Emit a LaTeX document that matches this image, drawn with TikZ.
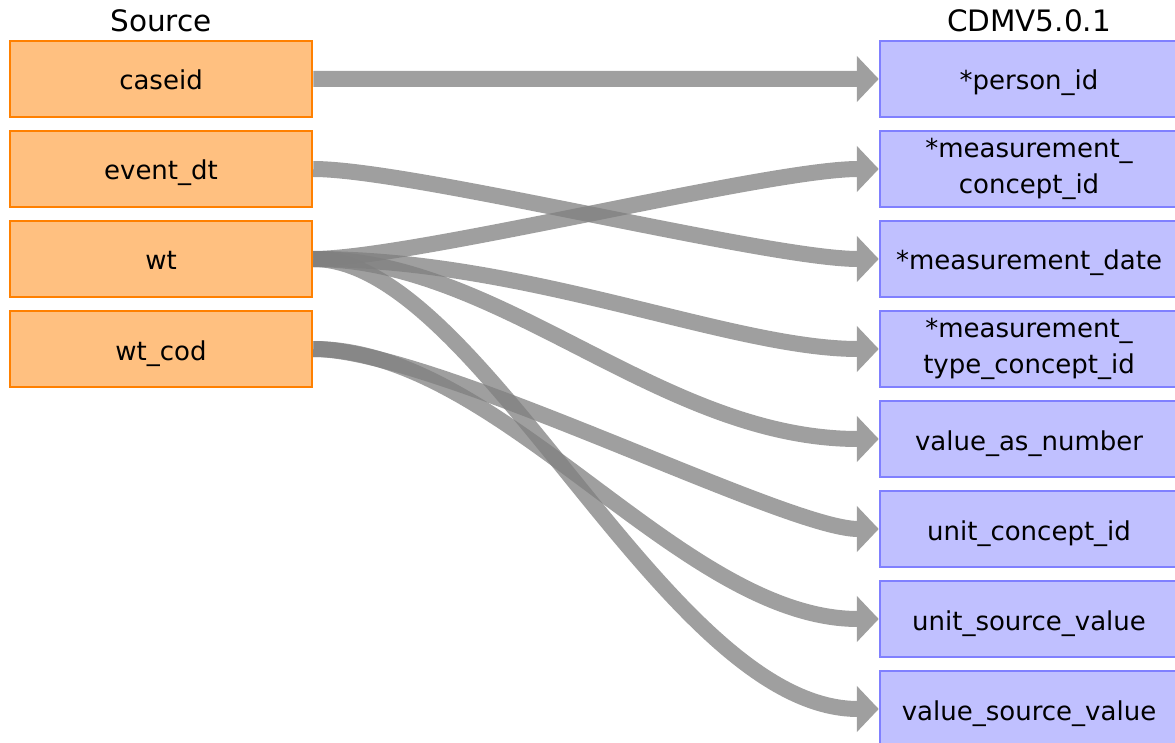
\documentclass[tikz,border=0pt]{standalone}
\usepackage{fontspec}
\setmainfont{DejaVu Sans}
\usetikzlibrary{arrows.meta}
\definecolor{srcfill}{RGB}{255,192,128}
\definecolor{srcline}{RGB}{255,128,0}
\definecolor{dstfill}{RGB}{192,192,255}
\definecolor{dstline}{RGB}{128,128,255}
\definecolor{edgegray}{RGB}{128,128,128}
\newcommand\lblfont{\fontsize{26}{36}\selectfont}
\newcommand\hdrfont{\fontsize{29.5}{34}\selectfont}
\tikzset{
  fieldbox/.style={rectangle, line width=2.5pt, minimum height=76pt, inner sep=0pt, font=\lblfont, align=center},
  srcbox/.style={fieldbox, draw=srcline, fill=srcfill, minimum width=302pt},
  dstbox/.style={fieldbox, draw=dstline, fill=dstfill, minimum width=298pt},
  oneline/.style={text height=22pt, text depth=0pt},
  header/.style={anchor=base, font=\hdrfont, inner sep=0pt},
  edge/.style={draw=edgegray, line width=16pt,
    -{Triangle[length=22pt,width=45pt,fill=edgegray]}},
  edgegroup/.style={transparency group, opacity=0.75}
}
\begin{document}
\begin{tikzpicture}[x=1pt,y=-1pt]
\useasboundingbox (0,0) rectangle (1175,743);
\clip (0,0) rectangle (1175,743);
\fill[white] (0,0) rectangle (1175,743);
% headers
\node[header] (hsrc) at (161,32) {Source};
\node[header] (hdst) at (1029,32) {CDMV5.0.1};
% source fields
\node[srcbox, oneline] (caseid) at (161,79) {caseid};
\node[srcbox, oneline] (eventdt) at (161,169) {event\_dt};
\node[srcbox, oneline] (wt) at (161,259) {wt};
\node[srcbox, oneline] (wtcod) at (161,349) {wt\_cod};
% target fields
\node[dstbox, oneline] (pid) at (1029,79) {*person\_id};
\node[dstbox] (mcid) at (1029,169) {*measurement\_\\concept\_id};
\node[dstbox, oneline] (mdate) at (1029,259) {*measurement\_date};
\node[dstbox] (mtype) at (1029,349) {*measurement\_\\type\_concept\_id};
\node[dstbox, oneline] (van) at (1029,439) {value\_as\_number};
\node[dstbox, oneline] (ucid) at (1029,529) {unit\_concept\_id};
\node[dstbox, oneline] (usv) at (1029,619) {unit\_source\_value};
\node[dstbox, oneline] (vsv) at (1029,709) {value\_source\_value};
% mappings
\begin{scope}[edgegroup]
\draw[edge] (caseid.east) -- (pid.west);
\end{scope}
\begin{scope}[edgegroup]
\draw[edge] (eventdt.east) .. controls +(98,0) and +(-111,0) .. (mdate.west);
\end{scope}
\begin{scope}[edgegroup]
\draw[edge] (wt.east) .. controls +(98,0) and +(-111,0) .. (mcid.west);
\end{scope}
\begin{scope}[edgegroup]
\draw[edge] (wt.east) .. controls +(215,0) and +(-148,0) .. (mtype.west);
\end{scope}
\begin{scope}[edgegroup]
\draw[edge] (wt.east) .. controls +(188,0) and +(-218,0) .. (van.west);
\end{scope}
\begin{scope}[edgegroup]
\draw[edge] (wt.east) .. controls +(168,0) and +(-213,0) .. (vsv.west);
\end{scope}
\begin{scope}[edgegroup]
\draw[edge] (wtcod.east) .. controls +(121,0) and +(-94,0) .. (ucid.west);
\end{scope}
\begin{scope}[edgegroup]
\draw[edge] (wtcod.east) .. controls +(188,0) and +(-198,0) .. (usv.west);
\end{scope}
\end{tikzpicture}
\end{document}
